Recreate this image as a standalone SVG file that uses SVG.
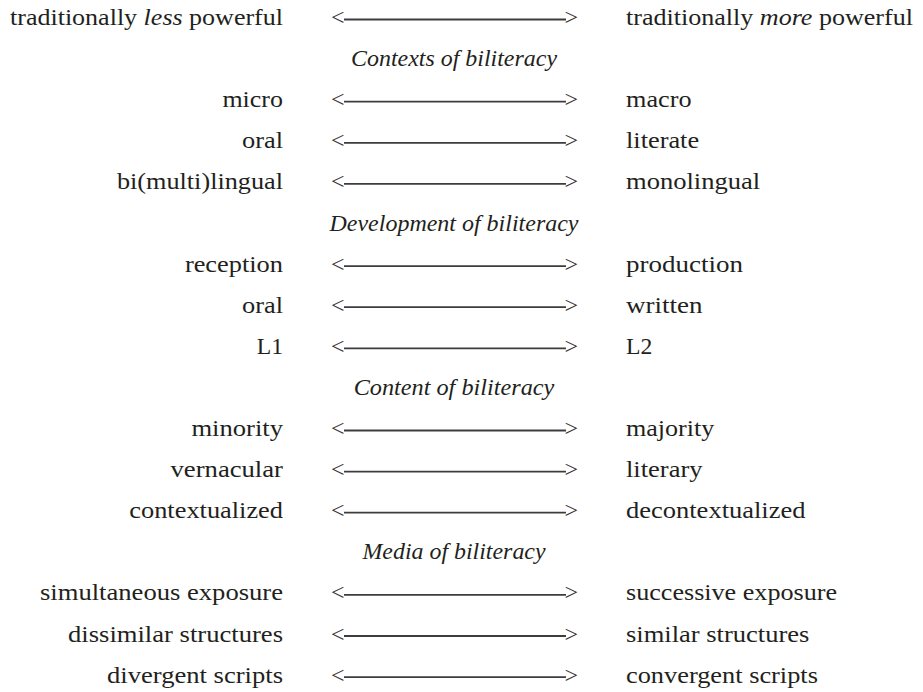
<svg xmlns="http://www.w3.org/2000/svg" width="923" height="692" viewBox="0 0 923 692" font-family="Liberation Serif" font-size="24">
<style>
text{fill:#231f20}
.l{text-anchor:end}
.r{text-anchor:start}
.h{text-anchor:middle;font-style:italic}
.lt{text-anchor:start;fill:#333333}
.gt{text-anchor:end;fill:#333333}
#connectors line{stroke:#3d3d3d;stroke-width:1.8}
</style>
<rect width="923" height="692" fill="#ffffff"/>
<g id="row-power">
<text class="l" x="283" y="25" textLength="273" lengthAdjust="spacingAndGlyphs">traditionally <tspan font-style="italic">less</tspan> powerful</text>
<text class="lt" x="331" y="25">&lt;</text><text class="gt" x="578" y="25">&gt;</text>
<text class="r" x="626" y="25" textLength="287" lengthAdjust="spacingAndGlyphs">traditionally <tspan font-style="italic">more</tspan> powerful</text>
</g>
<g id="head-contexts"><text class="h" x="454" y="66.1" textLength="206" lengthAdjust="spacingAndGlyphs">Contexts of biliteracy</text></g>
<g id="row-micro">
<text class="l" x="283" y="107.2" textLength="60.6" lengthAdjust="spacingAndGlyphs">micro</text>
<text class="lt" x="331" y="107.2">&lt;</text><text class="gt" x="578" y="107.2">&gt;</text>
<text class="r" x="626" y="107.2" textLength="65.5" lengthAdjust="spacingAndGlyphs">macro</text>
</g>
<g id="row-oral1">
<text class="l" x="283" y="148.3" textLength="41" lengthAdjust="spacingAndGlyphs">oral</text>
<text class="lt" x="331" y="148.3">&lt;</text><text class="gt" x="578" y="148.3">&gt;</text>
<text class="r" x="626" y="148.3" textLength="73.1" lengthAdjust="spacingAndGlyphs">literate</text>
</g>
<g id="row-lingual">
<text class="l" x="283" y="189.4" textLength="166.1" lengthAdjust="spacingAndGlyphs">bi(multi)lingual</text>
<text class="lt" x="331" y="189.4">&lt;</text><text class="gt" x="578" y="189.4">&gt;</text>
<text class="r" x="626" y="189.4" textLength="134.2" lengthAdjust="spacingAndGlyphs">monolingual</text>
</g>
<g id="head-development"><text class="h" x="454" y="230.5" textLength="249" lengthAdjust="spacingAndGlyphs">Development of biliteracy</text></g>
<g id="row-reception">
<text class="l" x="283" y="271.6" textLength="98.1" lengthAdjust="spacingAndGlyphs">reception</text>
<text class="lt" x="331" y="271.6">&lt;</text><text class="gt" x="578" y="271.6">&gt;</text>
<text class="r" x="626" y="271.6" textLength="117" lengthAdjust="spacingAndGlyphs">production</text>
</g>
<g id="row-oral2">
<text class="l" x="283" y="312.7" textLength="41" lengthAdjust="spacingAndGlyphs">oral</text>
<text class="lt" x="331" y="312.7">&lt;</text><text class="gt" x="578" y="312.7">&gt;</text>
<text class="r" x="626" y="312.7" textLength="76.5" lengthAdjust="spacingAndGlyphs">written</text>
</g>
<g id="row-l1">
<text class="l" x="283" y="353.8" textLength="26.3" lengthAdjust="spacingAndGlyphs">L1</text>
<text class="lt" x="331" y="353.8">&lt;</text><text class="gt" x="578" y="353.8">&gt;</text>
<text class="r" x="626" y="353.8" textLength="26.3" lengthAdjust="spacingAndGlyphs">L2</text>
</g>
<g id="head-content"><text class="h" x="454" y="394.9" textLength="200.7" lengthAdjust="spacingAndGlyphs">Content of biliteracy</text></g>
<g id="row-minority">
<text class="l" x="283" y="436" textLength="91.6" lengthAdjust="spacingAndGlyphs">minority</text>
<text class="lt" x="331" y="436">&lt;</text><text class="gt" x="578" y="436">&gt;</text>
<text class="r" x="626" y="436" textLength="88.3" lengthAdjust="spacingAndGlyphs">majority</text>
</g>
<g id="row-vernacular">
<text class="l" x="283" y="477.1" textLength="112.5" lengthAdjust="spacingAndGlyphs">vernacular</text>
<text class="lt" x="331" y="477.1">&lt;</text><text class="gt" x="578" y="477.1">&gt;</text>
<text class="r" x="626" y="477.1" textLength="76.5" lengthAdjust="spacingAndGlyphs">literary</text>
</g>
<g id="row-context">
<text class="l" x="283" y="518.2" textLength="153.7" lengthAdjust="spacingAndGlyphs">contextualized</text>
<text class="lt" x="331" y="518.2">&lt;</text><text class="gt" x="578" y="518.2">&gt;</text>
<text class="r" x="626" y="518.2" textLength="179.5" lengthAdjust="spacingAndGlyphs">decontextualized</text>
</g>
<g id="head-media"><text class="h" x="454" y="559.3" textLength="183.1" lengthAdjust="spacingAndGlyphs">Media of biliteracy</text></g>
<g id="row-exposure">
<text class="l" x="283" y="600.4" textLength="243" lengthAdjust="spacingAndGlyphs">simultaneous exposure</text>
<text class="lt" x="331" y="600.4">&lt;</text><text class="gt" x="578" y="600.4">&gt;</text>
<text class="r" x="626" y="600.4" textLength="211" lengthAdjust="spacingAndGlyphs">successive exposure</text>
</g>
<g id="row-structures">
<text class="l" x="283" y="641.5" textLength="215" lengthAdjust="spacingAndGlyphs">dissimilar structures</text>
<text class="lt" x="331" y="641.5">&lt;</text><text class="gt" x="578" y="641.5">&gt;</text>
<text class="r" x="626" y="641.5" textLength="183.3" lengthAdjust="spacingAndGlyphs">similar structures</text>
</g>
<g id="row-scripts">
<text class="l" x="283" y="682.6" textLength="176" lengthAdjust="spacingAndGlyphs">divergent scripts</text>
<text class="lt" x="331" y="682.6">&lt;</text><text class="gt" x="578" y="682.6">&gt;</text>
<text class="r" x="626" y="682.6" textLength="191.9" lengthAdjust="spacingAndGlyphs">convergent scripts</text>
</g>
<g id="connectors">
<line x1="344" y1="19.5" x2="566" y2="19.5"/>
<line x1="344" y1="101.7" x2="566" y2="101.7"/>
<line x1="344" y1="142.8" x2="566" y2="142.8"/>
<line x1="344" y1="183.9" x2="566" y2="183.9"/>
<line x1="344" y1="266.1" x2="566" y2="266.1"/>
<line x1="344" y1="307.2" x2="566" y2="307.2"/>
<line x1="344" y1="348.3" x2="566" y2="348.3"/>
<line x1="344" y1="430.5" x2="566" y2="430.5"/>
<line x1="344" y1="471.6" x2="566" y2="471.6"/>
<line x1="344" y1="512.7" x2="566" y2="512.7"/>
<line x1="344" y1="594.9" x2="566" y2="594.9"/>
<line x1="344" y1="636" x2="566" y2="636"/>
<line x1="344" y1="677.1" x2="566" y2="677.1"/>
</g>
</svg>
